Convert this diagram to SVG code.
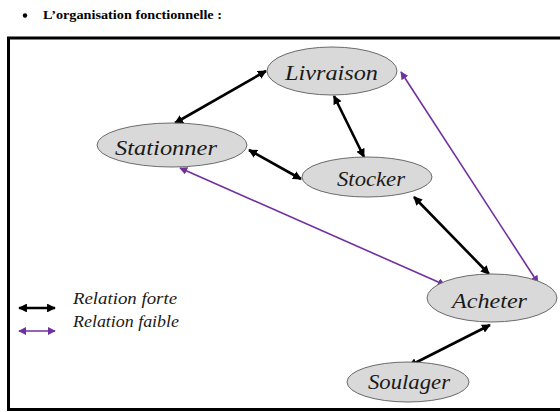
<svg xmlns="http://www.w3.org/2000/svg" width="560" height="412" viewBox="0 0 560 412">
  <style>
    .title { font-family: "Liberation Serif", serif; font-weight: bold; font-size: 12px; fill: #000; }
    .node ellipse { fill: #d9d9d9; stroke: #6b6b6b; stroke-width: 1; }
    .node text { font-family: "Liberation Serif", serif; font-style: italic; font-size: 22px; fill: #1a1a1a; text-anchor: start; }
    .strong { stroke: #000; stroke-width: 2.6; fill: none; marker-start: url(#headBlack); marker-end: url(#headBlack); }
    .weak { stroke: #7030a0; stroke-width: 1.6; fill: none; marker-start: url(#headPurple); marker-end: url(#headPurple); }
    .legend text { font-family: "Liberation Serif", serif; font-style: italic; font-size: 16px; fill: #1a1a1a; }
  </style>
  <defs>
    <marker id="headBlack" viewBox="0 0 10 10" refX="9" refY="5" markerWidth="3.4" markerHeight="3.4" orient="auto-start-reverse" markerUnits="strokeWidth">
      <path d="M0,0 L10,5 L0,10 z" fill="#000"/>
    </marker>
    <marker id="headPurple" viewBox="0 0 10 10" refX="9" refY="5" markerWidth="5" markerHeight="5" orient="auto-start-reverse" markerUnits="strokeWidth">
      <path d="M0,0 L10,5 L0,10 z" fill="#7030a0"/>
    </marker>
  </defs>

  <rect width="560" height="412" fill="#fff"/>

  <!-- heading -->
  <circle cx="25" cy="15.5" r="2.2" fill="#000"/>
  <text class="title" x="43" y="19" textLength="179" lengthAdjust="spacingAndGlyphs">L’organisation fonctionnelle :</text>

  <!-- outer frame (right edge runs past the page) -->
  <path d="M566,38 L8.5,38 L8.5,409.5 L566,409.5" fill="none" stroke="#000" stroke-width="3"/>

  <!-- connectors -->
  <g id="connectors">
    <line class="strong" x1="175" y1="123" x2="266" y2="71"/>
    <line class="strong" x1="334" y1="96" x2="364" y2="157"/>
    <line class="strong" x1="249" y1="150" x2="301" y2="179"/>
    <line class="strong" x1="414" y1="197" x2="489" y2="274"/>
    <line class="strong" x1="490" y1="325" x2="409" y2="366"/>
    <line class="weak" x1="401" y1="72" x2="538" y2="283"/>
    <line class="weak" x1="180" y1="168" x2="445" y2="285"/>
  </g>

  <!-- nodes -->
  <g id="livraison" class="node">
    <ellipse cx="332" cy="71" rx="65" ry="24"/>
    <text x="285" y="80" textLength="93" lengthAdjust="spacingAndGlyphs">Livraison</text>
  </g>
  <g id="stationner" class="node">
    <ellipse cx="172" cy="145" rx="75" ry="22"/>
    <text x="115" y="155" textLength="102" lengthAdjust="spacingAndGlyphs">Stationner</text>
  </g>
  <g id="stocker" class="node">
    <ellipse cx="367" cy="177" rx="65" ry="20"/>
    <text x="337" y="186" textLength="68" lengthAdjust="spacingAndGlyphs">Stocker</text>
  </g>
  <g id="acheter" class="node">
    <ellipse cx="492" cy="298" rx="65" ry="24"/>
    <text x="452" y="308" textLength="75" lengthAdjust="spacingAndGlyphs">Acheter</text>
  </g>
  <g id="soulager" class="node">
    <ellipse cx="408" cy="382" rx="61" ry="20"/>
    <text x="368" y="389" textLength="82" lengthAdjust="spacingAndGlyphs">Soulager</text>
  </g>

  <!-- legend -->
  <g id="legend" class="legend">
    <line class="strong" x1="19" y1="308" x2="55" y2="308"/>
    <text x="73" y="304" textLength="104" lengthAdjust="spacingAndGlyphs">Relation forte</text>
    <line class="weak" x1="19" y1="331" x2="55" y2="331"/>
    <text x="73" y="327" textLength="106" lengthAdjust="spacingAndGlyphs">Relation faible</text>
  </g>
</svg>
